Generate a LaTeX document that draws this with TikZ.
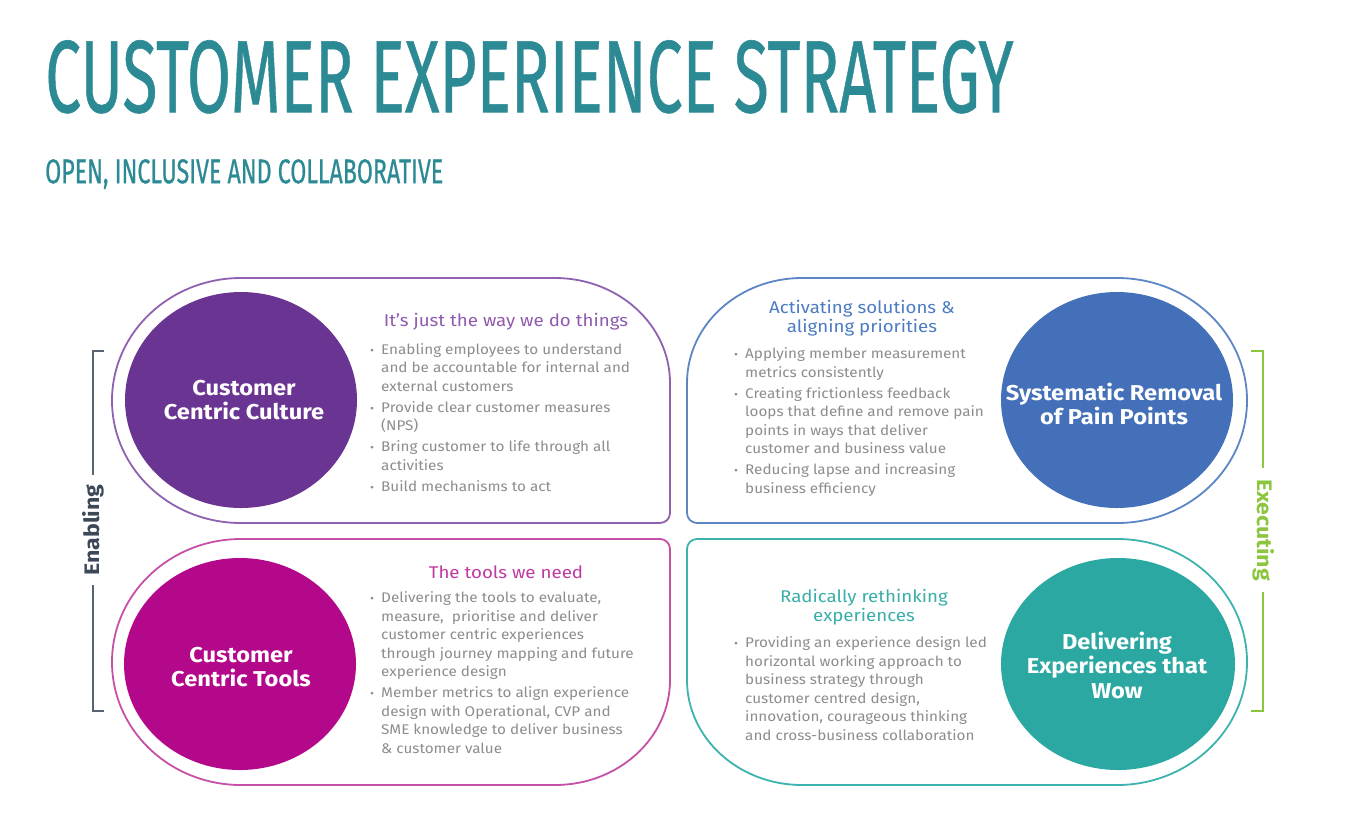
\documentclass[tikz,border=0pt]{standalone}
\usepackage{fontspec}
\setmainfont{Fira Sans}
\newfontfamily\dinbody[FakeStretch=1.09]{Fira Sans}
\newfontfamily\dinhead[FakeStretch=1.1]{Fira Sans}
\usepackage{graphicx}
\definecolor{titleteal}{HTML}{2C8A94}
\definecolor{pcirc}{HTML}{6A3592}
\definecolor{pline}{HTML}{8E62B0}
\definecolor{phead}{HTML}{8E5BAE}
\definecolor{mcirc}{HTML}{B4088A}
\definecolor{mline}{HTML}{C550A6}
\definecolor{mhead}{HTML}{C0399F}
\definecolor{bcirc}{HTML}{4470B9}
\definecolor{bline}{HTML}{5C86C4}
\definecolor{bhead}{HTML}{4C7CC2}
\definecolor{tcirc}{HTML}{2BA8A2}
\definecolor{tline}{HTML}{3DB3AE}
\definecolor{thead}{HTML}{3AAEA8}
\definecolor{txtgray}{HTML}{8D8D8D}
\definecolor{enabcol}{HTML}{3C4858}
\definecolor{execcol}{HTML}{8CC63F}
\newcommand\bl{\makebox[11pt][l]{\scalebox{0.8}{•}}}
\newcommand\ct{\hspace*{11pt}}
\begin{document}
\begin{tikzpicture}[x=1pt,y=-1pt,
  panel/.style={line width=1.8pt},
  circlabel/.style={text=white,font=\dinhead\fontsize{21.5}{24.5}\selectfont\bfseries,align=center,inner sep=0},
  heading/.style={font=\dinhead\fontsize{17}{18.5}\selectfont,align=center,inner sep=0},
  bullets/.style={text=txtgray,font=\dinbody\fontsize{14}{18.5}\selectfont,anchor=base west,inner sep=0},
  brace/.style={line width=1.6pt},
  sidelabel/.style={font=\dinhead\fontsize{21}{22}\selectfont\bfseries,inner sep=0}
]
\useasboundingbox[fill=white] (0,0) rectangle (1365,823);

% Title
\node[anchor=north west,inner sep=0,text=titleteal] (title) at (45,40)
  {\resizebox{968pt}{72pt}{\fontspec{Fira Sans}[FakeBold=0.6]CUSTOMER EXPERIENCE STRATEGY}};
\node[anchor=north west,inner sep=0,text=titleteal] (subtitle) at (45,159)
  {\resizebox{398pt}{24pt}{\fontspec{Fira Sans}[FakeBold=0.8]OPEN, INCLUSIVE AND COLLABORATIVE}};

% Panels
\draw[panel,draw=pline] (241,278) arc[start angle=270,end angle=90,x radius=129,y radius=122.5]
  -- (660,523) arc[start angle=90,end angle=0,radius=10]
  -- (670,383) arc[start angle=0,end angle=-90,x radius=115,y radius=105] -- cycle;
\draw[panel,draw=mline] (241,539) arc[start angle=270,end angle=90,x radius=129,y radius=123]
  -- (555,785) arc[start angle=90,end angle=0,x radius=115,y radius=105]
  -- (670,549) arc[start angle=0,end angle=-90,radius=10] -- cycle;
\draw[panel,draw=bline] (1117,278) arc[start angle=-90,end angle=90,x radius=130,y radius=122.5]
  -- (697,523) arc[start angle=90,end angle=180,radius=10]
  -- (687,383) arc[start angle=180,end angle=270,x radius=115,y radius=105] -- cycle;
\draw[panel,draw=tline] (1117,539) arc[start angle=-90,end angle=90,x radius=130,y radius=123]
  -- (802,785) arc[start angle=90,end angle=180,x radius=115,y radius=105]
  -- (687,549) arc[start angle=180,end angle=270,radius=10] -- cycle;

% Discs
\fill[pcirc] (241,400) ellipse[x radius=116,y radius=108];
\fill[mcirc] (240,664) ellipse[x radius=116,y radius=106];
\fill[bcirc] (1117,400) ellipse[x radius=116,y radius=108];
\fill[tcirc] (1118,664) ellipse[x radius=117,y radius=106];

\node[circlabel] (ccc) at (244,400) {Customer\\Centric Culture};
\node[circlabel] (cct) at (241,667) {Customer\\Centric Tools};
\node[circlabel] (srp) at (1114,404) {Systematic Removal\\of Pain Points};
\node[circlabel] (dew) at (1117,665) {Delivering\\Experiences that\\Wow};

% Headings
\node[heading,text=phead] (h1) at (506,322) {It’s just the way we do things};
\node[heading,text=mhead] (h2) at (506,572) {The tools we need};
\node[heading,text=bhead] (h3) at (862,318) {Activating solutions \&\\aligning priorities};
\node[heading,text=thead] (h4) at (864,607) {Radically rethinking\\experiences};

% Bullets
\node[bullets] (b1) at (370,354) {\begin{tabular}[t]{@{}l@{}}
\bl Enabling employees to understand\\
\ct and be accountable for internal and\\
\ct external customers\\[2.5pt]
\bl Provide clear customer measures\\
\ct (NPS)\\[2.5pt]
\bl Bring customer to life through all\\
\ct activities\\[2.5pt]
\bl Build mechanisms to act
\end{tabular}};
\node[bullets] (b2) at (370,602.5) {\begin{tabular}[t]{@{}l@{}}
\bl Delivering the tools to evaluate,\\
\ct measure,\ \ prioritise and deliver\\
\ct customer centric experiences\\
\ct through journey mapping and future\\
\ct experience design\\[2.5pt]
\bl Member metrics to align experience\\
\ct design with Operational, CVP and\\
\ct SME knowledge to deliver business\\
\ct \& customer value
\end{tabular}};
\node[bullets] (b3) at (734,358.5) {\begin{tabular}[t]{@{}l@{}}
\bl Applying member measurement\\
\ct metrics consistently\\[2.5pt]
\bl Creating frictionless feedback\\
\ct loops that define and remove pain\\
\ct points in ways that deliver\\
\ct customer and business value\\[2.5pt]
\bl Reducing lapse and increasing\\
\ct business efficiency
\end{tabular}};
\node[bullets] (b4) at (734,647.5) {\begin{tabular}[t]{@{}l@{}}
\bl Providing an experience design led\\
\ct horizontal working approach to\\
\ct business strategy through\\
\ct customer centred design,\\
\ct innovation, courageous thinking\\
\ct and cross-business collaboration
\end{tabular}};

% Side brackets
\node[sidelabel,text=enabcol,rotate=90] (enab) at (93,530) {Enabling};
\coordinate (e1) at (104,351);
\coordinate (e2) at (93,351);
\coordinate (e3) at (93,475);
\coordinate (e4) at (93,585);
\coordinate (e5) at (93,711);
\coordinate (e6) at (104,711);
\draw[brace,draw=enabcol!85] (e1) -- (e2) -- (e3);
\draw[brace,draw=enabcol!85] (e4) -- (e5) -- (e6);

\node[sidelabel,text=execcol,rotate=-90] (exec) at (1264,530) {Executing};
\coordinate (x1) at (1251,351);
\coordinate (x2) at (1263,351);
\coordinate (x3) at (1263,468);
\coordinate (x4) at (1263,592);
\coordinate (x5) at (1263,711);
\coordinate (x6) at (1251,711);
\draw[brace,draw=execcol] (x1) -- (x2) -- (x3);
\draw[brace,draw=execcol] (x4) -- (x5) -- (x6);
\end{tikzpicture}
\end{document}
